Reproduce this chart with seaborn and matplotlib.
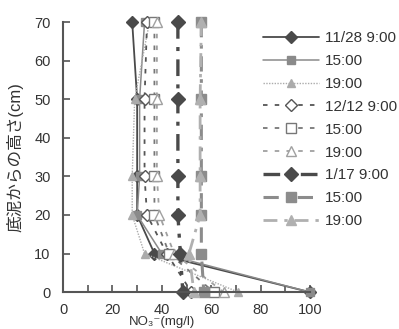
import matplotlib
matplotlib.use("Agg")
import matplotlib.pyplot as plt
import seaborn as sns
from matplotlib.ticker import MultipleLocator

# heights above the sediment (cm)
heights = [70, 50, 30, 20, 10, 0]

# NO3- concentration (mg/l) per sampling time
nov28_0900 = [28, 30, 30, 30, 37, 100]
nov28_1500 = [33, 31, 31, 30, 40, 100]
nov28_1900 = [35, 29, 28, 28, 33, 71]
dec12_0900 = [34, 33, 33, 34, 42, 52]
dec12_1500 = [37, 37, 37, 37, 43, 61]
dec12_1900 = [38, 38, 38, 39, 45, 65]
jan17_0900 = [46.5, 46.5, 46.5, 46.5, 47.5, 48.5]
jan17_1500 = [56, 56, 56, 56, 56, 57]
jan17_1900 = [56, 55.5, 55.5, 55.5, 51, 53]

labels = ["11/28 9:00", "15:00", "19:00",
          "12/12 9:00", "15:00", "19:00",
          "1/17 9:00", "15:00", "19:00"]

sns.set_theme(style="white")
plt.rcParams["font.family"] = ["Liberation Sans", "Noto Sans CJK JP", "DejaVu Sans"]

fig = plt.figure(figsize=(3.99, 3.29), dpi=100)
ax = fig.add_axes([0.158, 0.112, 0.619, 0.821])

styles = [
    (nov28_0900, dict(color="#4a4a4a", lw=1.3, ls="-", marker="D", ms=6, mfc="#4a4a4a", mec="#4a4a4a")),
    (nov28_1500, dict(color="#8a8a8a", lw=1.1, ls="-", marker="s", ms=6, mfc="#8a8a8a", mec="#8a8a8a")),
    (nov28_1900, dict(color="#ababab", lw=1.0, ls=(0, (1, 1)), marker="^", ms=6, mfc="#ababab", mec="#ababab")),
    (dec12_0900, dict(color="#555555", lw=1.3, ls=(0, (2.5, 4)), marker="D", ms=6, mfc="white", mec="#555555")),
    (dec12_1500, dict(color="#777777", lw=1.3, ls=(0, (2.5, 4)), marker="s", ms=7, mfc="white", mec="#777777")),
    (dec12_1900, dict(color="#a0a0a0", lw=1.3, ls=(0, (2.5, 4)), marker="^", ms=7, mfc="white", mec="#a0a0a0")),
    (jan17_0900, dict(color="#4a4a4a", lw=2.4, ls=(0, (5, 2.5, 1.2, 2.5)), marker="D", ms=7, mfc="#4a4a4a", mec="#4a4a4a")),
    (jan17_1500, dict(color="#8c8c8c", lw=2.2, ls=(0, (5, 2.5, 1.2, 2.5)), marker="s", ms=7, mfc="#8c8c8c", mec="#8c8c8c")),
    (jan17_1900, dict(color="#b0b0b0", lw=2.0, ls=(0, (5, 2.5, 1.2, 2.5)), marker="^", ms=7, mfc="#b0b0b0", mec="#b0b0b0")),
]

for (vals, kw), lab in zip(styles, labels):
    sns.lineplot(x=vals, y=heights, sort=False, orient="y", ax=ax, label=lab,
                 clip_on=False, mew=1.0, **kw)

ax.set_xlim(0, 100)
ax.set_ylim(0, 70)
ax.xaxis.set_major_locator(MultipleLocator(20))
ax.xaxis.set_minor_locator(MultipleLocator(10))
ax.yaxis.set_major_locator(MultipleLocator(10))
ax.tick_params(axis="both", which="both", direction="in", length=5, width=1.2,
               color="#555555", labelsize=10.5, labelcolor="#333333",
               bottom=True, left=True)
ax.tick_params(axis="x", pad=8)
ax.tick_params(axis="y", pad=9)

for side in ["top", "right"]:
    ax.spines[side].set_visible(False)
for side in ["left", "bottom"]:
    ax.spines[side].set_color("#555555")
    ax.spines[side].set_linewidth(1.5)

ax.set_ylabel("底泥からの高さ(cm)", fontsize=12, color="#333333", labelpad=8)
ax.set_xlabel("NO₃⁻(mg/l)", fontsize=9.5, color="#333333")
ax.xaxis.set_label_coords(0.4, -0.088)

ax.legend(loc="upper left", bbox_to_anchor=(0.659, 0.905), bbox_transform=fig.transFigure,
          frameon=False, fontsize=11, handlelength=3.7, handletextpad=0.35,
          labelspacing=0.58, borderpad=0, borderaxespad=0, labelcolor="#333333")

fig.savefig("out.png", dpi=100)
